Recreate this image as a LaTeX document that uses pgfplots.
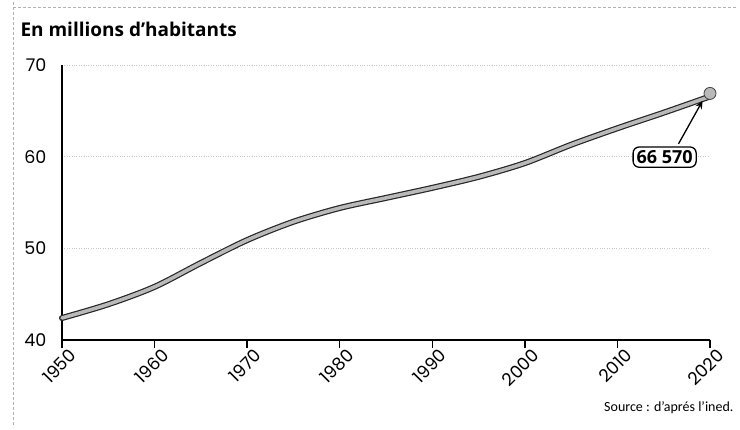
\documentclass[border=0pt]{standalone}
\usepackage{pgfplots}
\pgfplotsset{compat=1.18}
\usepackage{fontspec}
\setmainfont{Open Sans}
\newfontfamily\srcfont{Carlito}
\newfontfamily\tickfont{Poppins}
\usetikzlibrary{arrows.meta}

\begin{document}
\begin{tikzpicture}[x=1pt,y=1pt]
  \useasboundingbox (0,0) rectangle (740,429);
  % scanned page frame
  \draw[gray!60, densely dashed, line width=0.5pt] (13,427) -- (13,2);
  \draw[gray!60, densely dashed, line width=0.5pt] (13,422) -- (738,422);

  \node[anchor=west, font=\fontsize{19}{22}\selectfont\bfseries] at (17,400) {En millions d’habitants};

  \begin{axis}[
      at={(62pt,89pt)}, anchor=south west,
      scale only axis, width=648pt, height=275pt,
      xmin=1950, xmax=2020, ymin=40, ymax=70,
      axis x line*=bottom, axis y line*=left,
      axis line style={-, line width=1.6pt},
      xtick={1950,1960,...,2020}, ytick={40,50,60,70},
      tick align=outside, major tick length=8pt,
      xtick style={line width=1.4pt, black},
      ytick style={draw=none},
      ymajorgrids, grid style={gray!45, dotted, line width=0.8pt},
      /pgf/number format/1000 sep={},
      /pgf/number format/assume math mode=true,
      tick label style={font=\tickfont\fontsize{17.5}{19}\selectfont},
      xticklabel style={rotate=45, anchor=north east, xshift=8pt, yshift=-1pt},
      yticklabel style={xshift=-4pt},
      clip=false,
    ]
    \addplot[black!85, line width=6pt, line cap=round, line join=round, smooth]
      coordinates {(1950,42.4) (1955,43.9) (1960,45.8) (1965,48.4) (1970,50.9) (1975,52.9) (1980,54.4)
                   (1985,55.5) (1990,56.6) (1995,57.8) (2000,59.3) (2005,61.3) (2010,63.1) (2015,64.8) (2020,66.57)};
    \addplot[gray!55, line width=3.6pt, line cap=round, line join=round, smooth]
      coordinates {(1950,42.4) (1955,43.9) (1960,45.8) (1965,48.4) (1970,50.9) (1975,52.9) (1980,54.4)
                   (1985,55.5) (1990,56.6) (1995,57.8) (2000,59.3) (2005,61.3) (2010,63.1) (2015,64.8) (2020,66.57)};
    \addplot[only marks, mark=*, mark size=6pt, mark options={fill=gray!55, draw=black!75, line width=0.8pt}]
      coordinates {(2020,66.9)};

    \node[draw, rounded corners=6pt, line width=1.3pt, inner sep=3.5pt, fill=white,
          font=\fontsize{18}{20}\selectfont\bfseries] (lab) at (axis cs:2015.1,59.95) {66 570};
    \draw[-{Stealth[length=8pt,width=7pt]}, line width=1.3pt] (axis cs:2016.6,61.4) -- (axis cs:2019.2,66.1);
  \end{axis}

  \node[anchor=east, font=\srcfont\fontsize{14}{16}\selectfont] at (737,21) {Source : d’aprés l’ined.};
\end{tikzpicture}
\end{document}
